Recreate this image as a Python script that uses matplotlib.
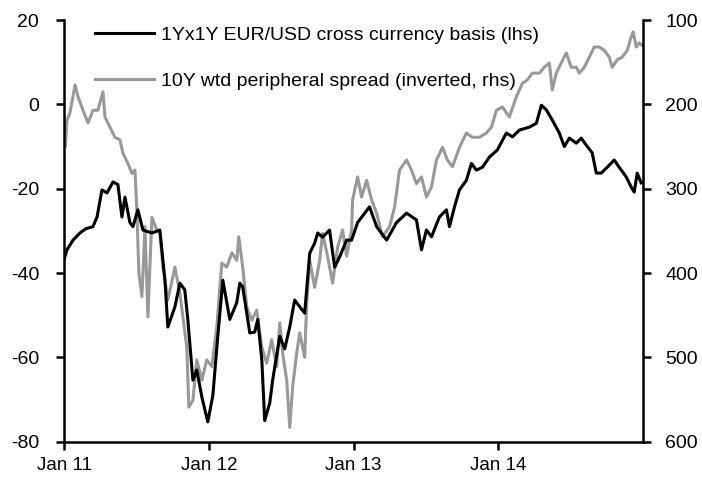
import matplotlib
matplotlib.use("Agg")
import matplotlib.pyplot as plt

plt.rcParams['font.family'] = ['Liberation Sans', 'DejaVu Sans']
plt.rcParams['axes.unicode_minus'] = False

# time in years (decimal), basis in bp (lhs)
basis_t = [2011.000, 2011.020, 2011.062, 2011.110, 2011.150, 2011.200, 2011.228, 2011.262,
           2011.297, 2011.338, 2011.372, 2011.400, 2011.421, 2011.455, 2011.476, 2011.510,
           2011.545, 2011.607, 2011.662, 2011.697, 2011.717, 2011.766, 2011.800, 2011.834,
           2011.855, 2011.890, 2011.917, 2011.952, 2011.993, 2012.028, 2012.062, 2012.097,
           2012.145, 2012.193, 2012.214, 2012.234, 2012.283, 2012.317, 2012.338, 2012.366,
           2012.386, 2012.421, 2012.441, 2012.490, 2012.524, 2012.559, 2012.593, 2012.628,
           2012.662, 2012.697, 2012.731, 2012.752, 2012.786, 2012.834, 2012.869, 2012.903,
           2012.952, 2012.986, 2013.028, 2013.110, 2013.159, 2013.228, 2013.297, 2013.366,
           2013.434, 2013.469, 2013.503, 2013.538, 2013.593, 2013.641, 2013.662, 2013.697,
           2013.731, 2013.779, 2013.814, 2013.848, 2013.890, 2013.938, 2013.993, 2014.055,
           2014.097, 2014.145, 2014.214, 2014.262, 2014.297, 2014.331, 2014.372, 2014.421,
           2014.455, 2014.490, 2014.538, 2014.572, 2014.614, 2014.648, 2014.676, 2014.710,
           2014.752, 2014.800, 2014.834, 2014.883, 2014.917, 2014.938, 2014.959, 2014.986]
basis = [-36.9, -34.5, -32.2, -30.5, -29.5, -29.0, -26.7, -20.3,
         -21.0, -18.4, -19.0, -26.7, -22.0, -28.0, -29.0, -25.0,
         -29.8, -30.5, -29.8, -41.7, -52.8, -48.0, -42.4, -44.0,
         -51.0, -65.4, -63.0, -69.4, -75.3, -69.0, -55.0, -41.7,
         -51.0, -47.0, -42.4, -43.3, -54.2, -54.0, -51.0, -60.6,
         -75.0, -70.8, -65.4, -55.0, -58.0, -52.8, -46.4, -48.0,
         -49.5, -35.3, -32.9, -30.5, -31.5, -29.8, -38.6, -36.2,
         -32.2, -32.2, -28.0, -24.3, -29.0, -32.2, -28.0, -25.8,
         -27.4, -34.5, -29.8, -31.4, -26.7, -25.0, -29.0, -24.3,
         -20.3, -18.0, -14.0, -15.6, -14.9, -12.5, -10.8, -6.8,
         -7.7, -6.1, -5.4, -4.5, -0.2, -1.3, -3.7, -6.8,
         -10.0, -8.0, -9.2, -8.0, -10.0, -11.5, -16.3, -16.3,
         -14.9, -13.2, -14.9, -17.2, -19.6, -20.8, -16.3, -18.6]

# 10Y weighted peripheral spread in bp (rhs, inverted)
spread_t = [2011.000, 2011.010, 2011.020, 2011.041, 2011.076, 2011.097, 2011.131, 2011.166,
            2011.200, 2011.234, 2011.269, 2011.283, 2011.317, 2011.352, 2011.386, 2011.407,
            2011.441, 2011.469, 2011.490, 2011.503, 2011.517, 2011.538, 2011.559, 2011.579,
            2011.607, 2011.641, 2011.662, 2011.683, 2011.717, 2011.766, 2011.800, 2011.848,
            2011.862, 2011.890, 2011.917, 2011.952, 2011.986, 2012.021, 2012.055, 2012.076,
            2012.090, 2012.124, 2012.159, 2012.193, 2012.207, 2012.234, 2012.262, 2012.297,
            2012.331, 2012.366, 2012.400, 2012.434, 2012.469, 2012.490, 2012.510, 2012.538,
            2012.559, 2012.579, 2012.607, 2012.628, 2012.662, 2012.676, 2012.697, 2012.731,
            2012.766, 2012.786, 2012.821, 2012.855, 2012.890, 2012.924, 2012.952, 2012.986,
            2012.993, 2013.028, 2013.055, 2013.090, 2013.124, 2013.159, 2013.200, 2013.248,
            2013.283, 2013.317, 2013.366, 2013.400, 2013.434, 2013.469, 2013.503, 2013.538,
            2013.572, 2013.614, 2013.648, 2013.683, 2013.731, 2013.779, 2013.821, 2013.869,
            2013.917, 2013.952, 2013.986, 2014.028, 2014.076, 2014.124, 2014.166, 2014.200,
            2014.234, 2014.283, 2014.317, 2014.352, 2014.372, 2014.400, 2014.434, 2014.469,
            2014.503, 2014.538, 2014.559, 2014.593, 2014.628, 2014.662, 2014.697, 2014.731,
            2014.766, 2014.786, 2014.821, 2014.855, 2014.890, 2014.917, 2014.931, 2014.952,
            2014.972, 2014.993]
spread = [225, 250, 219, 210, 177, 191, 207, 222,
          207, 207, 185, 215, 227, 239, 242, 258,
          270, 282, 278, 325, 400, 428, 345, 452,
          334, 349, 353, 393, 432, 393, 424, 488,
          559, 551, 503, 527, 503, 511, 464, 417,
          388, 393, 376, 385, 357, 393, 440, 456,
          444, 488, 507, 479, 511, 459, 495, 527,
          583, 535, 495, 471, 500, 436, 385, 417,
          385, 353, 381, 412, 369, 349, 380, 349,
          313, 286, 310, 290, 313, 329, 357, 345,
          322, 278, 266, 278, 294, 286, 310, 298,
          266, 251, 266, 274, 251, 234, 239, 239,
          234, 227, 207, 203, 215, 191, 175, 171,
          163, 163, 156, 151, 183, 163, 151, 139,
          156, 156, 163, 156, 144, 132, 132, 136,
          144, 156, 147, 144, 136, 120, 114, 132,
          127, 130]

year_ticks = [2011, 2012, 2013, 2014]
year_labels = ['Jan 11', 'Jan 12', 'Jan 13', 'Jan 14']

fig = plt.figure(figsize=(7.02, 4.83), dpi=100)
ax = fig.add_axes([0.0912, 0.0855, 0.825, 0.873])
ax2 = ax.twinx()

l1, = ax.plot(basis_t, basis, color='black', lw=2.2, zorder=3)
l2, = ax2.plot(spread_t, spread, color='#999999', lw=2.2)
ax.set_zorder(ax2.get_zorder() + 1)
ax.patch.set_visible(False)

ax.set_xlim(2011, 2015)
ax.set_ylim(-80, 20)
ax.set_yticks(range(-80, 21, 20))
ax2.set_ylim(600, 100)
ax2.set_yticks(range(100, 601, 100))
ax.set_xticks(year_ticks)
ax.set_xticklabels(year_labels)

for a in (ax, ax2):
    a.spines['top'].set_visible(False)
    for s in ('left', 'right', 'bottom'):
        a.spines[s].set_linewidth(1.8)
ax.spines['right'].set_visible(False)
ax2.spines['left'].set_visible(False)
ax2.spines['bottom'].set_visible(False)

ax.tick_params(axis='y', direction='out', length=6, width=1.8, labelsize=14, pad=12)
ax.tick_params(axis='x', direction='out', length=6, width=1.8, labelsize=13.5, pad=5)
ax2.tick_params(axis='y', direction='out', length=6, width=1.8, labelsize=14, pad=10)

ax.legend([l1, l2],
          ['1Yx1Y EUR/USD cross currency basis (lhs)',
           '10Y wtd peripheral spread (inverted, rhs)'],
          loc='upper left', bbox_to_anchor=(0.054, 0.985), frameon=False,
          fontsize=14, handlelength=3.0, handletextpad=0.4, labelspacing=1.45,
          borderpad=0, borderaxespad=0)

fig.savefig('out.png', dpi=100)
